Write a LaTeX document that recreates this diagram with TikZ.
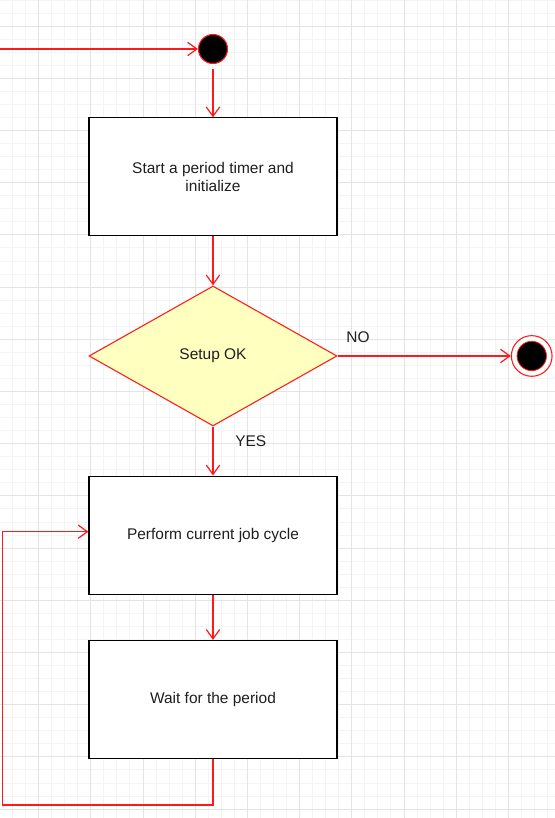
\documentclass[tikz,border=0pt]{standalone}
\usepackage{fontspec}
\setmainfont{Liberation Sans}
\usetikzlibrary{shapes.geometric,positioning,arrows.meta}
\definecolor{flowred}{HTML}{FF1A1A}
\definecolor{decfill}{HTML}{FFFFC0}
\definecolor{gridminor}{HTML}{F4F4F4}
\definecolor{gridmajor}{HTML}{E4E4E4}

\begin{document}
\begin{tikzpicture}[x=0.75pt, y=-0.75pt,
        font=\fontsize{11.6pt}{13.6pt}\selectfont,
        block/.style={draw=black, line width=0.8pt, fill=white, rectangle, minimum width=186pt, minimum height=88.5pt, align=center, inner sep=0pt, text=black!88},
        decision/.style={draw=flowred, line width=0.8pt, fill=decfill, diamond, minimum width=186pt, minimum height=105pt, inner sep=0pt, text=black!88},
        startstate/.style={draw=flowred, line width=0.8pt, fill=black, circle, minimum size=21.75pt, inner sep=0pt},
        endstate/.style={draw=flowred, line width=0.8pt, fill=white, circle, minimum size=30.5pt, inner sep=0pt},
        enddot/.style={draw=flowred, line width=0.6pt, fill=black, circle, minimum size=22pt, inner sep=0pt},
        flow/.style={draw=flowred, line width=0.9pt, -{Straight Barb[length=7pt, width=10pt]}},
        lbl/.style={inner sep=0pt, text=black!88}
    ]
        \useasboundingbox (0,0) rectangle (555,818);

        % background grid
        \begin{scope}
            \clip (0,0) rectangle (555,818);
            \fill[white] (0,0) rectangle (555,818);
            \foreach \i in {0,...,42}
                \draw[gridminor, line width=0.6pt] (-0.65+13.05*\i,0) -- (-0.65+13.05*\i,818);
            \foreach \i in {0,...,62}
                \draw[gridminor, line width=0.6pt] (0,-0.1+13.05*\i) -- (555,-0.1+13.05*\i);
            \foreach \i in {0,...,10}
                \draw[gridmajor, line width=0.6pt] (38.5+52.2*\i,0) -- (38.5+52.2*\i,818);
            \foreach \i in {0,...,15}
                \draw[gridmajor, line width=0.6pt] (0,26+52.2*\i) -- (555,26+52.2*\i);
        \end{scope}

        \node [startstate] (start) at (213,49) {};
        \coordinate (in) at (0,49);
        \node [block, below=40pt of start] (init) {Start a period timer and\\initialize};
        \node [decision, below=36.75pt of init] (setup) {Setup OK};
        \node [endstate, right=130pt of setup] (stop) {};
        \node [enddot] (stopdot) at (stop.center) {};
        \node [block, below=36.75pt of setup] (perform) {Perform current job cycle};
        \node [block, below=34pt of perform] (wait) {Wait for the period};
        \coordinate (loopcorner) at (2.3,805);

        \draw [flow] (in) -- (start.west);
        \draw [flow, shorten <=4pt] (start.south) -- (init.north);
        \draw [flow] (init.south) -- (setup.north);
        \draw [flow] (setup.east) -- (stop.west);
        \draw [flow] (setup.south) -- (perform.north);
        \draw [flow] (perform.south) -- (wait.north);
        \draw [flow] (wait.south) |- (loopcorner) |- ([yshift=2.5pt]perform.west);

        \node [lbl, anchor=base west] at ([xshift=6.5pt, yshift=10.3pt]setup.east) {NO};
        \node [lbl, anchor=base west] at ([xshift=16.5pt, yshift=-14.8pt]setup.south) {YES};
    \end{tikzpicture}
\end{document}
